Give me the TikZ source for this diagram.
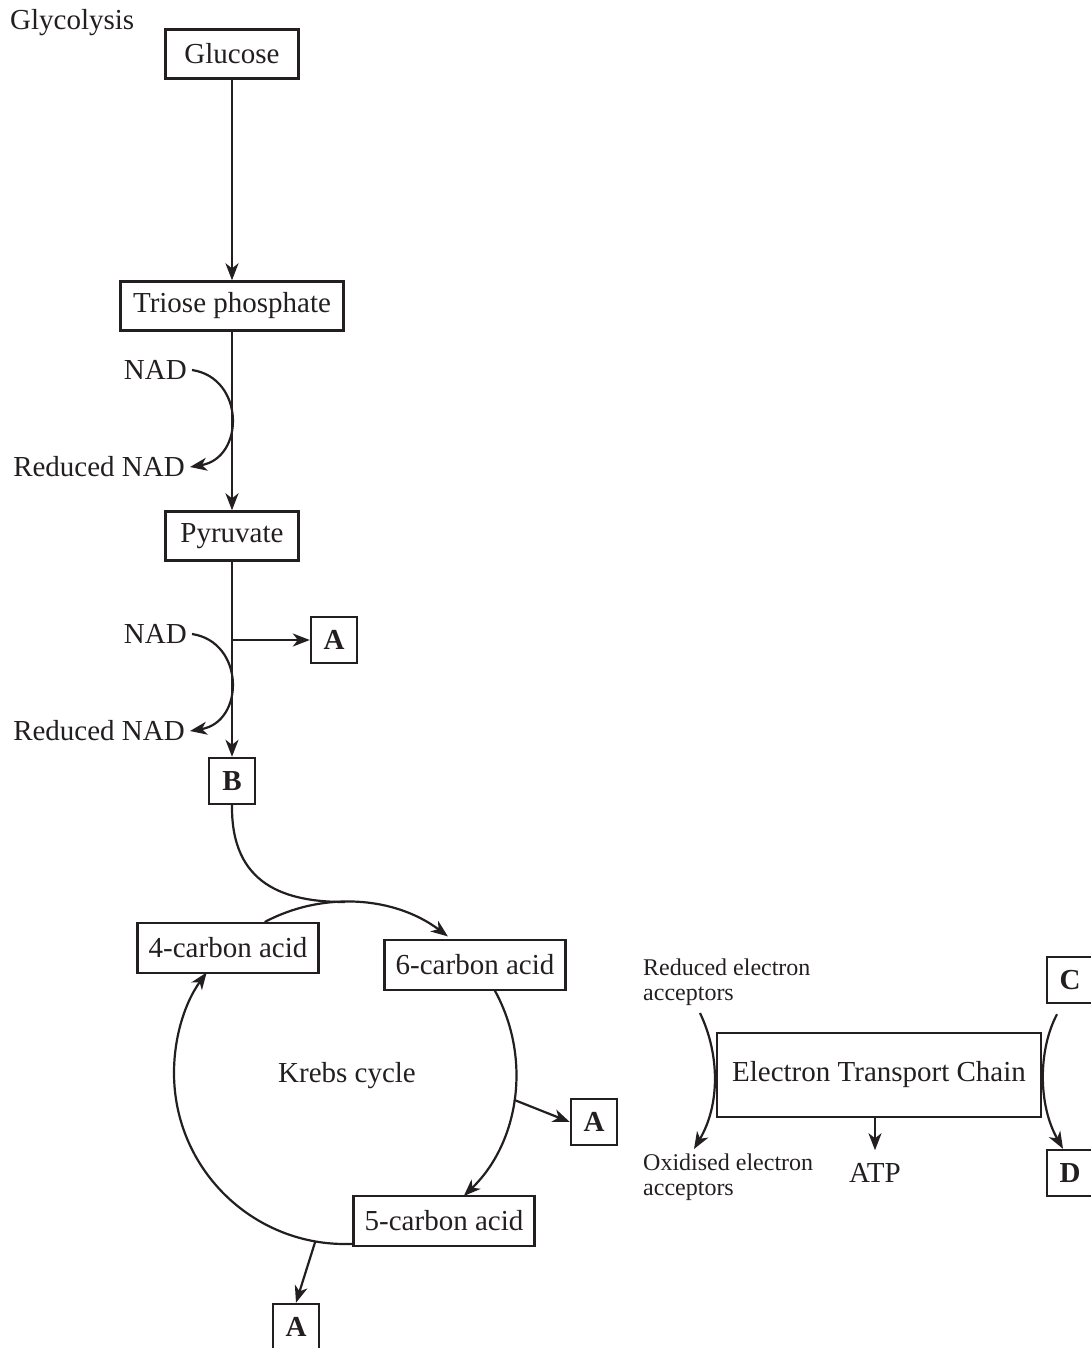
\documentclass[tikz,border=0pt]{standalone}
\usepackage{fontspec}
\setmainfont{Liberation Serif}
\usepackage{tikz}
\usetikzlibrary{arrows.meta, positioning, calc}
\definecolor{ink}{HTML}{231F20}

\begin{document}
\begin{tikzpicture}[x=1pt,y=1pt,on grid,>={Stealth[length=17pt,width=13pt,inset=5pt]},
    every node/.style={font=\fontsize{29}{33}\selectfont,text=ink}]
    \tikzstyle{box}=[shape=rectangle,draw=ink,line width=2.4pt,minimum height=49pt]
    \tikzstyle{acid}=[box,minimum width=181pt,minimum height=50pt]
    \tikzstyle{letter}=[box,minimum size=46pt,inner sep=0pt,font=\fontsize{29}{33}\selectfont\bfseries]
    \tikzstyle{lbl}=[inner sep=5pt]
    \tikzstyle{small}=[inner sep=0pt,align=left,font=\fontsize{24}{25}\selectfont]
    \tikzstyle{wire}=[draw=ink,line width=2.2pt]
    \tikzstyle{flow}=[->,draw=ink,line width=2.2pt]

    \useasboundingbox (0,0) rectangle (1091,-1348);
    \clip (0,0) rectangle (1091,-1348);

    % glycolysis
    \node[lbl, inner sep=0pt, anchor=west] (gly) at (10,-23) {Glycolysis};
    \node[box, minimum width=133pt] (glc) at (232,-54) {Glucose};
    \node[box, minimum width=223pt, below=252pt of glc] (tri) {Triose phosphate};
    \node[box, minimum width=133pt, below=230pt of tri] (pyr) {Pyruvate};
    \node[letter, below=245pt of pyr] (B) {B};
    \node[letter] (A1) at (334,-640) {A};
    \node[lbl, anchor=east] (nad1) at (192,-370) {NAD};
    \node[lbl, anchor=east] (rnad1) at (190,-467) {Reduced NAD};
    \node[lbl, anchor=east] (nad2) at (192,-634) {NAD};
    \node[lbl, anchor=east] (rnad2) at (190,-731) {Reduced NAD};

    \path
    (glc) edge[flow] (tri)
    (tri) edge[flow] (pyr)
    (pyr) edge[flow] (B)
    (pyr.south |- A1.west) edge[flow] (A1.west);

    \draw[flow] (nad1.east) .. controls (245,-378) and (245,-458) .. (rnad1.east);
    \draw[flow] (nad2.east) .. controls (245,-642) and (245,-722) .. (rnad2.east);

    % krebs cycle
    \coordinate (kc) at (345,-1073);
    \node[lbl] (krebs) at (347,-1076) {Krebs cycle};
    \node[acid] (c4) at (228,-948) {4-carbon acid};
    \node[acid] (c6) at (475,-965) {6-carbon acid};
    \node[acid] (c5) at (444,-1221) {5-carbon acid};
    \node[letter] (A2) at (594,-1122) {A};
    \node[letter] (A3) at (296,-1327) {A};

    \coordinate (ktop) at ($(kc)+(90:171)$);
    \coordinate (k4t) at ($(kc)+(118:171)$);
    \coordinate (k6b) at ($(kc)+(29:171)$);
    \coordinate (k5l) at ($(kc)+(-87:171)$);
    \coordinate (kr) at ($(kc)+(-9:171)$);
    \coordinate (kb) at ($(kc)+(-100:171)$);

    \draw[wire] (B.south) .. controls (231,-885) and (285,-902) .. (ktop);
    \draw[flow] (k4t) arc[start angle=118, end angle=53, radius=171];
    \draw[flow] (k6b) arc[start angle=29, end angle=-46, radius=171];
    \draw[flow] (k5l) arc[start angle=-87, end angle=-216, radius=171];
    \draw[flow] (kr) -- (A2.west);
    \draw[flow] (kb) -- (A3.north);

    % electron transport chain
    \node[box, minimum width=324pt, minimum height=84pt] (etc) at (879,-1075) {Electron Transport Chain};
    \node[lbl, inner sep=0pt, inner ysep=13pt] (atp) at (875,-1173) {ATP};
    \node[small, anchor=north west] (redacc) at (643,-959) {Reduced electron\\acceptors};
    \node[small, anchor=north west] (oxacc) at (643,-1154) {Oxidised electron\\acceptors};
    \node[letter] (C) at (1070,-980) {C};
    \node[letter] (D) at (1070,-1173) {D};

    \coordinate (ra) at (700,-1013);
    \coordinate (oa) at (694,-1149);

    \draw[flow] (etc.south -| atp) -- (atp.north);
    \draw[flow] (ra) .. controls (720,-1055) and (720,-1105) .. (oa);
    \draw[flow] ($(C.south)+(-13,-10)$) .. controls (1038,-1050) and (1038,-1105) .. ($(D.north)+(-7,0)$);
\end{tikzpicture}
\end{document}
